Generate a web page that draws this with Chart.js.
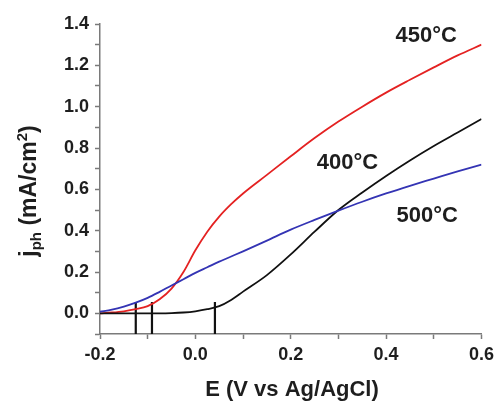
<!DOCTYPE html>
<html>
<head>
<meta charset="utf-8">
<script src="https://cdn.jsdelivr.net/npm/chart.js@4/dist/chart.umd.min.js"></script>
<style>
  html, body { margin: 0; padding: 0; background: #fff; }
  #wrap { width: 499px; height: 402px; position: relative; }
</style>
</head>
<body>
<div id="wrap"><canvas id="c"></canvas></div>
<script>
// potencial (V vs Ag/AgCl)
const E = [-0.2, -0.175, -0.15, -0.125, -0.1, -0.075, -0.05, -0.025, 0, 0.025, 0.05, 0.075, 0.1,
  0.15, 0.2, 0.25, 0.3, 0.35, 0.4, 0.45, 0.5, 0.55, 0.6];

// fotocorrente (mA/cm2)
const j450 = [0.0, 0.004, 0.01, 0.02, 0.035, 0.068, 0.12, 0.2, 0.305, 0.395, 0.468, 0.528, 0.58,
  0.67, 0.76, 0.848, 0.928, 1.0, 1.068, 1.13, 1.19, 1.248, 1.30];
const j400 = [0.0, 0.0, 0.0, 0.0, 0.0, 0.0, 0.001, 0.004, 0.01, 0.02, 0.035, 0.065, 0.105,
  0.185, 0.285, 0.395, 0.5, 0.585, 0.665, 0.74, 0.81, 0.875, 0.94];
const j500 = [0.008, 0.018, 0.033, 0.052, 0.075, 0.104, 0.135, 0.165, 0.196, 0.223, 0.25, 0.275, 0.30,
  0.352, 0.405, 0.452, 0.497, 0.54, 0.58, 0.617, 0.652, 0.687, 0.72];

// marcas verticais (onset)
const markerE = [-0.125, -0.091, 0.041];
const markerTop = 0.055;

const labels = ['450°C', '400°C', '500°C'];
const labelE = [0.484, 0.319, 0.486];
const labelJ = [1.342, 0.726, 0.473];

const FONT = '"Liberation Sans", Arial, sans-serif';
const TXT = '#1e1e1e';
const AXIS = '#7a7a7a';

const pts = ys => E.map((x, i) => ({ x, y: ys[i] }));

const curve = (data, color) => ({
  data, borderColor: color, borderWidth: 1.8, pointRadius: 0,
  cubicInterpolationMode: 'monotone', fill: false
});

const markers = markerE.map(x => ({
  data: [{ x, y: -0.1 }, { x, y: markerTop }],
  borderColor: '#111', borderWidth: 2.2, pointRadius: 0
}));

// textos extras: título do eixo y com sub/sobrescrito, título x e rótulos das curvas
const extras = {
  id: 'extras',
  afterDraw(chart) {
    const { ctx, scales: { x, y } } = chart;
    ctx.save();
    ctx.fillStyle = TXT;

    // rótulos das curvas
    ctx.font = 'bold 22px ' + FONT;
    ctx.textAlign = 'center';
    ctx.textBaseline = 'middle';
    labels.forEach((t, i) => {
      ctx.fillText(t, x.getPixelForValue(labelE[i]), y.getPixelForValue(labelJ[i]));
    });

    // título x
    ctx.font = 'bold 22px ' + FONT;
    ctx.fillText('E (V vs Ag/AgCl)', 292, 390);

    // título y
    const big = 'bold 23px ' + FONT, small = 'bold 15px ' + FONT;
    const parts = [
      ['j', big, 0], ['ph', small, 5], [' (mA/cm', big, 0], ['2', small, -9], [')', big, 0]
    ];
    let w = 0;
    parts.forEach(p => { ctx.font = p[1]; w += ctx.measureText(p[0]).width; });
    ctx.translate(28, 191);
    ctx.rotate(-Math.PI / 2);
    ctx.textAlign = 'left';
    ctx.textBaseline = 'alphabetic';
    let cx = -w / 2;
    parts.forEach(p => {
      ctx.font = p[1];
      ctx.fillText(p[0], cx, 8 + p[2]);
      cx += ctx.measureText(p[0]).width;
    });
    ctx.restore();
  }
};

const tickFont = { family: FONT, size: 18, weight: 'bold' };
const even = v => Math.round(v * 10) % 2 === 0;

new Chart(document.getElementById('c'), {
  type: 'line',
  data: {
    datasets: [curve(pts(j500), '#3434b4'), curve(pts(j400), '#111111'),
      curve(pts(j450), '#e42222'), ...markers]
  },
  options: {
    responsive: true,
    maintainAspectRatio: false,
    animation: false,
    layout: { padding: { left: 0, right: 14, top: 24, bottom: 0 } },
    plugins: { legend: { display: false }, tooltip: { enabled: false } },
    scales: {
      x: {
        type: 'linear', min: -0.2, max: 0.6,
        border: { color: AXIS, width: 1.5 },
        grid: { drawOnChartArea: false, tickLength: 5, tickColor: AXIS, tickWidth: 1.5 },
        ticks: {
          stepSize: 0.1, autoSkip: false, maxRotation: 0, padding: 5,
          color: TXT, font: tickFont,
          callback: v => even(v) ? v.toFixed(1) : ''
        },
        afterFit: s => { s.height = 68; }
      },
      y: {
        type: 'linear', min: -0.1, max: 1.4,
        border: { color: AXIS, width: 1.5 },
        grid: { drawOnChartArea: false, tickLength: 5, tickColor: AXIS, tickWidth: 1.5 },
        ticks: {
          stepSize: 0.1, autoSkip: false, padding: 6,
          color: TXT, font: tickFont,
          callback: v => even(v) ? v.toFixed(1) : ''
        },
        afterFit: s => { s.width = 100; }
      }
    }
  },
  plugins: [extras]
});
</script>
</body>
</html>
